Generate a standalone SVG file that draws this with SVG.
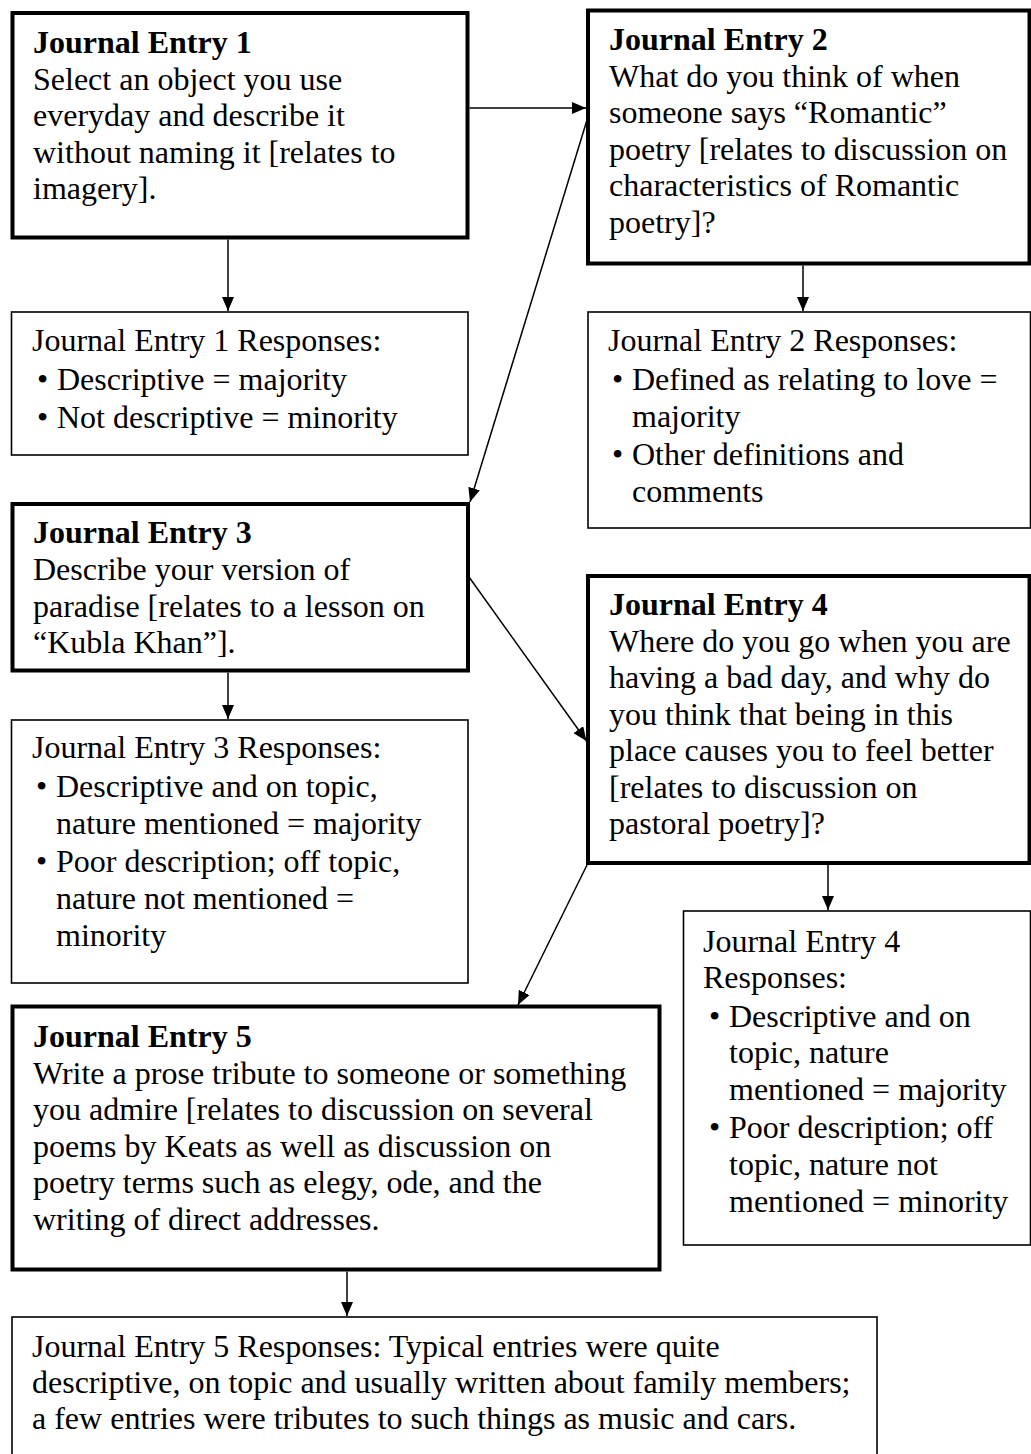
<svg xmlns="http://www.w3.org/2000/svg" width="1031" height="1454" viewBox="0 0 1031 1454">
<defs>
<style>
.thick{fill:#fff;stroke:#000;stroke-width:4}
.thin{fill:#fff;stroke:#000;stroke-width:1.6}
text{font-family:"Liberation Serif","Times New Roman",serif;font-size:32px;fill:#000}
.b{font-weight:bold}
.conn line{stroke:#000;stroke-width:1.5;marker-end:url(#ah)}
</style>
<marker id="ah" markerUnits="userSpaceOnUse" markerWidth="14" markerHeight="12" refX="14" refY="6" orient="auto">
<path d="M0,0 L14,6 L0,12 z" fill="#000"/>
</marker>
</defs>
<rect width="1031" height="1454" fill="#fff"/>

<g id="je1">
<rect class="thick" x="12.5" y="13" width="455" height="224.5"/>
<text x="33" y="53" class="b">Journal Entry 1</text>
<text x="33" y="89.5">Select an object you use</text>
<text x="33" y="126">everyday and describe it</text>
<text x="33" y="162.5">without naming it [relates to</text>
<text x="33" y="199">imagery].</text>
</g>

<g id="je1r">
<rect class="thin" x="11.5" y="312" width="456.5" height="143"/>
<text x="32" y="351">Journal Entry 1 Responses:</text>
<text x="37" y="390">•</text><text x="57" y="390">Descriptive = majority</text>
<text x="37" y="428">•</text><text x="57" y="428">Not descriptive = minority</text>
</g>

<g id="je2">
<rect class="thick" x="588" y="10.5" width="441.5" height="253"/>
<text x="609" y="50" class="b">Journal Entry 2</text>
<text x="609" y="86.5">What do you think of when</text>
<text x="609" y="123">someone says “Romantic”</text>
<text x="609" y="159.5">poetry [relates to discussion on</text>
<text x="609" y="196">characteristics of Romantic</text>
<text x="609" y="232.5">poetry]?</text>
</g>

<g id="je2r">
<rect class="thin" x="588" y="312" width="442.5" height="216"/>
<text x="608" y="351">Journal Entry 2 Responses:</text>
<text x="612" y="390">•</text><text x="632" y="390">Defined as relating to love =</text>
<text x="632" y="427">majority</text>
<text x="612" y="465">•</text><text x="632" y="465">Other definitions and</text>
<text x="632" y="502">comments</text>
</g>

<g id="je3">
<rect class="thick" x="12.5" y="504" width="455.5" height="166.5"/>
<text x="33" y="543" class="b">Journal Entry 3</text>
<text x="33" y="580">Describe your version of</text>
<text x="33" y="616.5">paradise [relates to a lesson on</text>
<text x="33" y="653">“Kubla Khan”].</text>
</g>

<g id="je3r">
<rect class="thin" x="11.5" y="720" width="456.5" height="263"/>
<text x="32" y="758">Journal Entry 3 Responses:</text>
<text x="36" y="797">•</text><text x="56" y="797">Descriptive and on topic,</text>
<text x="56" y="834">nature mentioned = majority</text>
<text x="36" y="872">•</text><text x="56" y="872">Poor description; off topic,</text>
<text x="56" y="909">nature not mentioned =</text>
<text x="56" y="946">minority</text>
</g>

<g id="je4">
<rect class="thick" x="588" y="576" width="441.5" height="287"/>
<text x="609" y="615" class="b">Journal Entry 4</text>
<text x="609" y="651.5">Where do you go when you are</text>
<text x="609" y="688">having a bad day, and why do</text>
<text x="609" y="724.5">you think that being in this</text>
<text x="609" y="761">place causes you to feel better</text>
<text x="609" y="797.5">[relates to discussion on</text>
<text x="609" y="834">pastoral poetry]?</text>
</g>

<g id="je4r">
<rect class="thin" x="683.5" y="911" width="347" height="334"/>
<text x="703" y="952">Journal Entry 4</text>
<text x="703" y="988">Responses:</text>
<text x="709" y="1027">•</text><text x="729" y="1027">Descriptive and on</text>
<text x="729" y="1063">topic, nature</text>
<text x="729" y="1100">mentioned = majority</text>
<text x="709" y="1138">•</text><text x="729" y="1138">Poor description; off</text>
<text x="729" y="1175">topic, nature not</text>
<text x="729" y="1212">mentioned = minority</text>
</g>

<g id="je5">
<rect class="thick" x="12.5" y="1006.5" width="647" height="263"/>
<text x="33" y="1047" class="b">Journal Entry 5</text>
<text x="33" y="1083.5">Write a prose tribute to someone or something</text>
<text x="33" y="1120">you admire [relates to discussion on several</text>
<text x="33" y="1156.5">poems by Keats as well as discussion on</text>
<text x="33" y="1193">poetry terms such as elegy, ode, and the</text>
<text x="33" y="1229.5">writing of direct addresses.</text>
</g>

<g id="je5r">
<rect class="thin" x="12" y="1317" width="865" height="150"/>
<text x="32" y="1357">Journal Entry 5 Responses: Typical entries were quite</text>
<text x="32" y="1393">descriptive, on topic and usually written about family members;</text>
<text x="32" y="1429">a few entries were tributes to such things as music and cars.</text>
</g>

<g id="connectors" class="conn">
<line x1="469.5" y1="108" x2="586" y2="108"/>
<line x1="228" y1="239.5" x2="228" y2="311"/>
<line x1="587" y1="120" x2="470" y2="502"/>
<line x1="803" y1="265.5" x2="803" y2="311"/>
<line x1="228" y1="672.5" x2="228" y2="719"/>
<line x1="469" y1="577" x2="586.5" y2="741"/>
<line x1="828" y1="865" x2="828" y2="910"/>
<line x1="587" y1="865" x2="518" y2="1005"/>
<line x1="347" y1="1271.5" x2="347" y2="1316"/>
</g>
</svg>
